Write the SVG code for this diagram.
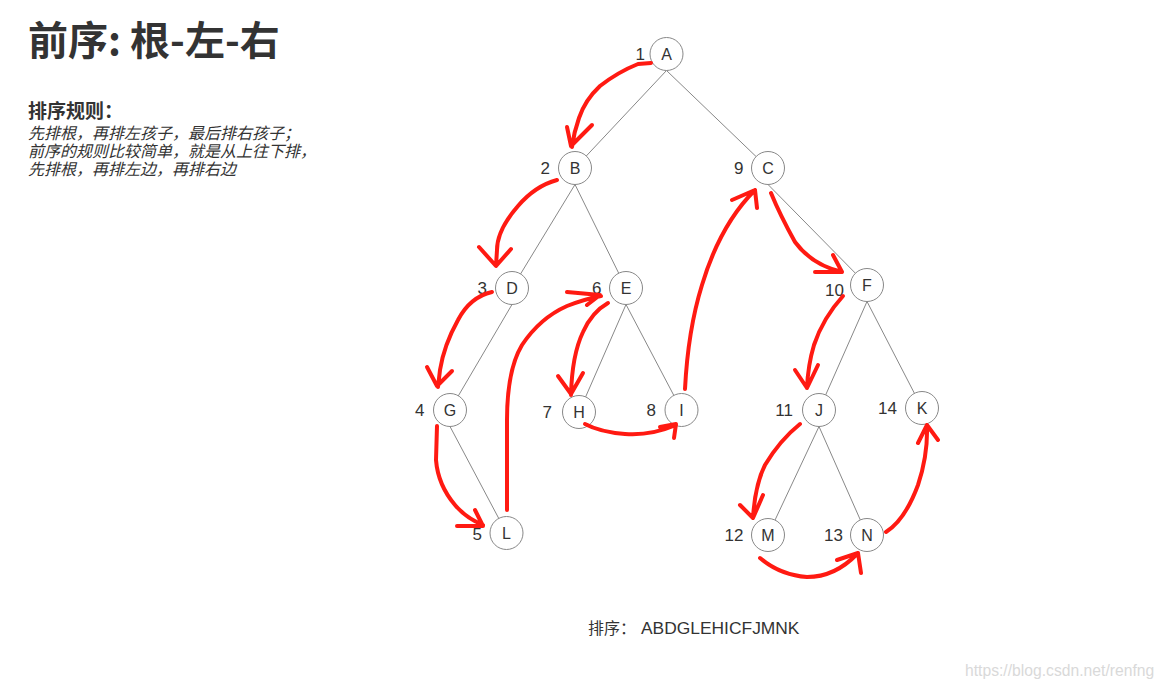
<svg xmlns="http://www.w3.org/2000/svg" width="1165" height="689" viewBox="0 0 1165 689">
<style>
.cjk{font-family:"Noto Sans CJK SC","Liberation Sans",sans-serif;fill:#333}
.edge{stroke:#888;stroke-width:1;fill:none}
.node circle{fill:#fff;stroke:#888;stroke-width:1}
.node .lbl{font-family:"Liberation Sans",Arial,sans-serif;font-size:16px;fill:#333;text-anchor:middle}
.node .num{font-family:"Liberation Sans",Arial,sans-serif;font-size:17px;fill:#333;text-anchor:end}
.red{stroke:#ff1a12;stroke-width:4;fill:none;stroke-linecap:round;stroke-linejoin:round}
</style>
<rect width="1165" height="689" fill="#fff"/>
<text class="cjk" x="28" y="55" font-size="40" font-weight="bold">前序: 根-左-右</text>
<text class="cjk" x="28" y="118" font-size="19" font-weight="bold">排序规则：</text>
<g class="cjk" font-size="16" font-style="italic">
<text x="28" y="138.5">先排根，再排左孩子，最后排右孩子；</text>
<text x="28" y="156.5">前序的规则比较简单，就是从上往下排，</text>
<text x="28" y="174.5">先排根，再排左边，再排右边</text>
</g>
<g id="edges">
<line class="edge" x1="666.5" y1="70.5" x2="575" y2="168"/>
<line class="edge" x1="666.5" y1="70.5" x2="768" y2="168"/>
<line class="edge" x1="575" y1="184.5" x2="512" y2="288"/>
<line class="edge" x1="575" y1="184.5" x2="626" y2="288"/>
<line class="edge" x1="768" y1="184.5" x2="867" y2="285"/>
<line class="edge" x1="512" y1="304.5" x2="450" y2="410"/>
<line class="edge" x1="626" y1="304.5" x2="579" y2="412"/>
<line class="edge" x1="626" y1="304.5" x2="681.5" y2="410"/>
<line class="edge" x1="867" y1="301.5" x2="819" y2="410"/>
<line class="edge" x1="867" y1="301.5" x2="922" y2="408"/>
<line class="edge" x1="450" y1="426.5" x2="506.5" y2="533"/>
<line class="edge" x1="819" y1="426.5" x2="768" y2="535"/>
<line class="edge" x1="819" y1="426.5" x2="867" y2="535"/>
</g>
<g id="nA" class="node"><circle cx="666.5" cy="54" r="16.5"/><text class="lbl" x="666.5" y="59.5">A</text><text class="num" x="645" y="60">1</text></g>
<g id="nB" class="node"><circle cx="575" cy="168" r="16.5"/><text class="lbl" x="575" y="173.5">B</text><text class="num" x="550" y="174">2</text></g>
<g id="nC" class="node"><circle cx="768" cy="168" r="16.5"/><text class="lbl" x="768" y="173.5">C</text><text class="num" x="743.5" y="174">9</text></g>
<g id="nD" class="node"><circle cx="512" cy="288" r="16.5"/><text class="lbl" x="512" y="293.5">D</text><text class="num" x="487" y="294">3</text></g>
<g id="nE" class="node"><circle cx="626" cy="288" r="16.5"/><text class="lbl" x="626" y="293.5">E</text><text class="num" x="601.5" y="294">6</text></g>
<g id="nF" class="node"><circle cx="867" cy="285" r="16.5"/><text class="lbl" x="867" y="290.5">F</text><text class="num" x="844" y="296">10</text></g>
<g id="nG" class="node"><circle cx="450" cy="410" r="16.5"/><text class="lbl" x="450" y="415.5">G</text><text class="num" x="424.5" y="416">4</text></g>
<g id="nH" class="node"><circle cx="579" cy="412" r="16.5"/><text class="lbl" x="579" y="417.5">H</text><text class="num" x="552" y="418">7</text></g>
<g id="nI" class="node"><circle cx="681.5" cy="410" r="16.5"/><text class="lbl" x="681.5" y="415.5">I</text><text class="num" x="656" y="416">8</text></g>
<g id="nJ" class="node"><circle cx="819" cy="410" r="16.5"/><text class="lbl" x="819" y="415.5">J</text><text class="num" x="793" y="416">11</text></g>
<g id="nK" class="node"><circle cx="922" cy="408" r="16.5"/><text class="lbl" x="922" y="413.5">K</text><text class="num" x="897" y="414">14</text></g>
<g id="nL" class="node"><circle cx="506.5" cy="533" r="16.5"/><text class="lbl" x="506.5" y="538.5">L</text><text class="num" x="482" y="540">5</text></g>
<g id="nM" class="node"><circle cx="768" cy="535" r="16.5"/><text class="lbl" x="768" y="540.5">M</text><text class="num" x="743.5" y="541">12</text></g>
<g id="nN" class="node"><circle cx="867" cy="535" r="16.5"/><text class="lbl" x="867" y="540.5">N</text><text class="num" x="843" y="541">13</text></g>
<g id="arrows" class="red">
<path d="M651,63 L638,64 Q618,72 600,86 Q585,100 579,118 Q574,132 572,147 M567,127 L571,146 L592,125"/>
<path d="M557,180 Q535,186 518,206 Q497,230 497,250 L496,266 M479,247 L496,266 L511,249"/>
<path d="M492,292 Q470,297 458,320 Q444,345 440,370 L438,387 M427,367 L437,386 L452,371"/>
<path d="M437,426 L436,460 Q438,485 455,505 Q466,518 483,525 M457,526 L483,526 L475,510"/>
<path d="M507,510 L507,420 Q507,370 522,345 Q540,318 567,306 Q585,299 601,296 M567,292 L600,295 L587,305"/>
<path d="M608,303 Q592,312 583,332 Q572,355 571,395 M558,376 L571,394 L583,373"/>
<path d="M585,424 Q600,432 625,434 Q650,436 676,425 M660,427 L676,424 L674,438"/>
<path d="M685,389 Q688,330 702,285 Q720,225 755,190 M732,200 L755,190 L757,208"/>
<path d="M771,193 Q780,215 795,242 Q812,265 842,272 M815,272 L842,272 L833,255"/>
<path d="M843,296 Q823,318 814,345 Q808,365 807,388 M795,370 L807,388 L818,365"/>
<path d="M800,424 Q780,440 765,465 Q755,485 753,518 M740,505 L753,518 L763,495"/>
<path d="M760,558 Q780,575 807,577 Q835,577 857,554 M837,560 L858,553 L861,573"/>
<path d="M886,532 Q905,520 918,485 Q928,455 927,425 M918,443 L927,425 L938,440"/>
</g>
<text class="cjk" x="588" y="634" font-size="16">排序：<tspan x="641" font-family="'Liberation Sans',Arial,sans-serif" font-size="17.4">ABDGLEHICFJMNK</tspan></text>
<text x="965" y="676" font-family="'Liberation Sans',Arial,sans-serif" font-size="15.7" fill="#d9d9d9">https://blog.csdn.net/renfng</text>
</svg>
